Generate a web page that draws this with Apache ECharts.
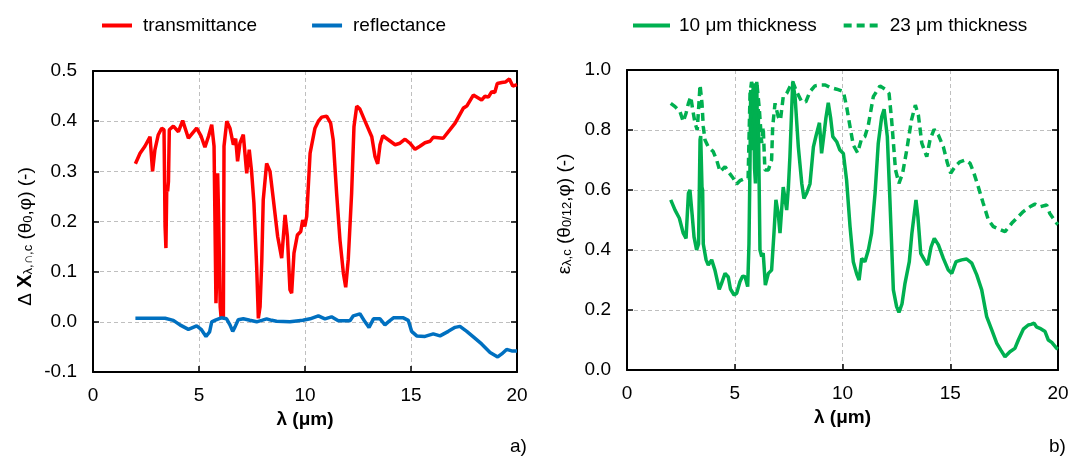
<!DOCTYPE html>
<html><head><meta charset="utf-8">
<script src="https://cdn.jsdelivr.net/npm/echarts@6/dist/echarts.min.js"></script>
<style>html,body{margin:0;padding:0;background:#fff}#c{width:1072px;height:456px}</style>
</head><body><div id="c"></div>
<script>
// ---- data ----
const xTicks = [0, 5, 10, 15, 20];
const transX = [2.0,2.22,2.45,2.69,2.81,2.92,3.08,3.24,3.35,3.40,3.44,3.48,3.52,3.56,3.60,3.79,4.03,4.23,4.50,4.89,5.10,5.28,5.45,5.60,5.71,5.80,5.84,5.88,5.93,6.0,6.04,6.15,6.18,6.31,6.46,6.62,6.73,6.82,6.93,7.09,7.25,7.37,7.48,7.59,7.72,7.80,7.88,7.96,8.03,8.19,8.35,8.51,8.71,8.90,9.06,9.17,9.29,9.37,9.48,9.64,9.80,9.89,9.99,10.08,10.24,10.47,10.63,10.79,11.02,11.21,11.33,11.49,11.65,11.81,11.92,12.04,12.20,12.31,12.44,12.59,12.83,13.15,13.30,13.43,13.54,13.67,13.93,14.25,14.48,14.72,14.95,15.19,15.42,15.66,15.90,16.05,16.52,16.84,17.08,17.47,17.63,17.94,18.33,18.49,18.65,18.81,18.95,19.07,19.28,19.45,19.64,19.80,20.0];
const transY = [0.315,0.336,0.35,0.369,0.30,0.343,0.373,0.386,0.383,0.19,0.147,0.27,0.26,0.28,0.383,0.39,0.379,0.401,0.366,0.386,0.37,0.348,0.37,0.393,0.35,0.037,0.10,0.296,0.2,0.03,0.01,0.01,0.35,0.40,0.386,0.353,0.365,0.32,0.356,0.373,0.296,0.343,0.30,0.237,0.11,0.007,0.03,0.12,0.243,0.316,0.30,0.243,0.17,0.127,0.213,0.17,0.064,0.057,0.137,0.173,0.18,0.203,0.19,0.21,0.336,0.386,0.40,0.408,0.41,0.396,0.363,0.257,0.163,0.097,0.069,0.124,0.257,0.389,0.43,0.424,0.40,0.369,0.33,0.315,0.353,0.371,0.363,0.353,0.356,0.364,0.356,0.344,0.35,0.357,0.36,0.368,0.366,0.383,0.396,0.426,0.43,0.452,0.442,0.45,0.448,0.459,0.457,0.475,0.477,0.478,0.484,0.47,0.473];

const reflX = [2.0,3.4,3.79,4.10,4.5,4.89,5.1,5.33,5.5,5.6,5.8,6.05,6.3,6.46,6.59,6.7,6.85,7.09,7.4,7.72,7.96,8.19,8.43,8.66,9.29,9.9,10.24,10.63,10.94,11.25,11.57,12.12,12.28,12.59,12.83,13.02,13.23,13.54,13.77,13.93,14.17,14.64,14.87,15.03,15.27,15.66,16.05,16.37,16.76,17.08,17.31,17.63,17.94,18.33,18.73,19.09,19.28,19.51,19.75,20.0];
const reflY = [0.007,0.007,0.003,-0.006,-0.015,-0.008,-0.015,-0.029,-0.02,0.0,0.004,0.008,0.006,-0.006,-0.019,-0.01,0.004,0.006,0.003,0.0,0.003,0.006,0.003,0.001,0.0,0.003,0.006,0.012,0.006,0.01,0.002,0.002,0.012,0.016,0.0,-0.011,0.006,0.006,-0.006,0.0,0.008,0.008,0.003,-0.019,-0.028,-0.029,-0.024,-0.028,-0.019,-0.011,-0.009,-0.019,-0.03,-0.044,-0.061,-0.07,-0.064,-0.055,-0.058,-0.058];

const thin10X = [2.03,2.23,2.43,2.61,2.74,2.85,2.92,3.02,3.11,3.23,3.32,3.39,3.42,3.48,3.51,3.54,3.67,3.77,3.93,4.08,4.28,4.38,4.55,4.7,4.8,4.97,5.09,5.24,5.37,5.48,5.60,5.66,5.71,5.74,5.81,5.86,5.92,5.96,6.02,6.06,6.09,6.17,6.25,6.32,6.42,6.56,6.71,6.82,6.91,7.02,7.1,7.17,7.25,7.33,7.41,7.49,7.56,7.69,7.8,7.95,8.11,8.21,8.34,8.49,8.65,8.77,8.93,9.03,9.13,9.23,9.34,9.45,9.55,9.73,9.88,10.04,10.19,10.35,10.50,10.66,10.77,10.89,11.04,11.2,11.35,11.51,11.66,11.82,11.93,12.08,12.20,12.36,12.51,12.62,12.76,12.90,13.10,13.22,13.41,13.5,13.63,13.8,13.95,14.11,14.26,14.45,14.68,14.91,15.07,15.27,15.53,15.76,16.0,16.23,16.46,16.69,16.93,17.16,17.34,17.54,17.77,18.0,18.16,18.39,18.62,18.75,18.89,19.0,19.16,19.40,19.55,19.71,19.94,20.0];
const thin10Y = [0.567,0.533,0.506,0.456,0.439,0.589,0.60,0.52,0.444,0.40,0.42,0.767,0.78,0.61,0.60,0.42,0.367,0.35,0.367,0.333,0.269,0.287,0.322,0.31,0.27,0.25,0.256,0.294,0.313,0.311,0.278,0.42,0.70,0.933,0.733,0.956,0.67,0.622,0.961,0.75,0.87,0.40,0.378,0.39,0.283,0.322,0.333,0.456,0.567,0.52,0.456,0.46,0.61,0.61,0.533,0.61,0.711,0.961,0.91,0.744,0.622,0.572,0.59,0.62,0.744,0.78,0.824,0.722,0.78,0.84,0.891,0.84,0.778,0.761,0.733,0.722,0.633,0.478,0.361,0.32,0.30,0.372,0.361,0.40,0.456,0.589,0.756,0.844,0.869,0.778,0.567,0.267,0.211,0.192,0.22,0.289,0.361,0.456,0.567,0.51,0.389,0.367,0.35,0.41,0.439,0.417,0.372,0.333,0.322,0.361,0.367,0.37,0.356,0.317,0.267,0.178,0.133,0.089,0.067,0.044,0.061,0.072,0.10,0.136,0.15,0.152,0.156,0.144,0.139,0.128,0.10,0.092,0.072,0.07];

const thick23X = [2.03,2.23,2.46,2.61,2.74,2.85,2.96,3.05,3.16,3.26,3.39,3.48,3.54,3.62,3.77,4.0,4.16,4.32,4.55,4.70,4.93,5.09,5.24,5.48,5.62,5.71,5.78,5.86,5.92,6.02,6.14,6.25,6.32,6.40,6.56,6.71,6.76,6.87,7.02,7.12,7.25,7.41,7.56,7.69,7.87,8.11,8.30,8.49,8.72,8.96,9.2,9.42,9.73,10.04,10.19,10.35,10.5,10.70,10.89,11.04,11.2,11.43,11.74,11.97,12.16,12.28,12.46,12.62,12.79,12.98,13.2,13.38,13.52,13.68,13.91,14.06,14.25,14.45,14.68,14.87,15.02,15.22,15.45,15.68,15.92,16.1,16.30,16.53,16.77,17.0,17.25,17.54,17.85,18.08,18.39,18.7,18.93,19.16,19.47,19.62,19.94,20.0];
const thick23Y = [0.889,0.878,0.861,0.828,0.856,0.889,0.911,0.867,0.822,0.80,0.95,0.889,0.811,0.767,0.744,0.728,0.70,0.661,0.678,0.661,0.639,0.62,0.631,0.639,0.639,0.922,0.96,0.94,0.76,0.961,0.87,0.756,0.81,0.667,0.667,0.70,0.811,0.889,0.844,0.833,0.911,0.922,0.944,0.961,0.928,0.894,0.894,0.928,0.947,0.95,0.95,0.942,0.936,0.928,0.878,0.811,0.75,0.724,0.772,0.778,0.817,0.911,0.947,0.936,0.922,0.833,0.667,0.622,0.656,0.733,0.833,0.883,0.85,0.756,0.711,0.767,0.802,0.783,0.744,0.689,0.656,0.678,0.694,0.70,0.689,0.656,0.611,0.556,0.50,0.478,0.47,0.461,0.489,0.506,0.528,0.544,0.553,0.544,0.55,0.522,0.489,0.485];

const zip = (xs, ys) => xs.map((x, i) => [x, ys[i]]);

// ---- styles ----
const FONT = '"Liberation Sans", Arial, sans-serif';
const BLACK = '#000';
const gridLine = {show: true, lineStyle: {color: '#bfbfbf', type: [4, 3], width: 1}};

function bottomX(gi) {
  return {
    type: 'value', gridIndex: gi, min: 0, max: 20, interval: 5, position: 'bottom',
    name: '{b|λ (μm)}', nameLocation: 'middle', nameGap: 28,
    nameTextStyle: {rich: {b: {fontFamily: FONT, fontSize: 19, fontWeight: 'bold', color: BLACK}}},
    axisLine: {show: true, onZero: false, lineStyle: {color: BLACK, width: 2}},
    axisTick: {show: true, inside: true, length: 6, lineStyle: {color: BLACK, width: 1.5}},
    axisLabel: {fontFamily: FONT, fontSize: 19, color: BLACK, margin: 14},
    splitLine: gridLine
  };
}
function topX(gi) {
  return {
    type: 'value', gridIndex: gi, min: 0, max: 20, interval: 5, position: 'top',
    axisLine: {show: true, onZero: false, lineStyle: {color: BLACK, width: 2}},
    axisTick: {show: false}, axisLabel: {show: false}, splitLine: {show: false}
  };
}
function leftY(gi, min, max, interval, name, rich, gap, pad) {
  return {
    type: 'value', gridIndex: gi, min: min, max: max, interval: interval, position: 'left',
    name: name, nameLocation: 'middle', nameGap: gap, nameRotate: 90,
    nameTextStyle: {rich: rich, padding: pad},
    axisLine: {show: true, onZero: false, lineStyle: {color: BLACK, width: 2}},
    axisTick: {show: true, inside: true, length: 6, lineStyle: {color: BLACK, width: 1.5}},
    axisLabel: {fontFamily: FONT, fontSize: 19, color: BLACK, margin: 16,
      formatter: v => v.toFixed(1)},
    splitLine: gridLine
  };
}
function rightY(gi, min, max, interval) {
  return {
    type: 'value', gridIndex: gi, min: min, max: max, interval: interval, position: 'right',
    axisLine: {show: true, onZero: false, lineStyle: {color: BLACK, width: 2}},
    axisTick: {show: true, inside: true, length: 6, lineStyle: {color: BLACK, width: 1.5}},
    axisLabel: {show: false}, splitLine: {show: false}
  };
}

const n = {fontFamily: FONT, fontSize: 19, color: BLACK, verticalAlign: 'bottom', lineHeight: 24};
const b = Object.assign({}, n, {fontWeight: 'bold', fontSize: 20});
const s = {fontFamily: FONT, fontSize: 13, color: BLACK, verticalAlign: 'bottom', lineHeight: 18};

const leftName = '{n|Δ }{b|X}{s|λ,∩,c}{n| (θ}{s|0}{n|,φ) (-)}';
const rightName = '{n|ε}{s|λ,c}{n| (θ}{s|0/12}{n|,φ) (-)}';

const legendText = {fontFamily: FONT, fontSize: 19, color: BLACK};
const LW = 3.5;

const option = {
  animation: false,
  backgroundColor: '#fff',
  grid: [
    {left: 93, top: 71, width: 424, height: 301},
    {left: 627, top: 70, width: 431, height: 300}
  ],
  legend: [
    {data: ['transmittance', 'reflectance'], left: 95, top: 11, itemWidth: 30, itemHeight: 14,
      itemGap: 53, itemStyle: {opacity: 0}, lineStyle: {width: 4},
      textStyle: Object.assign({padding: [0, 0, 0, 6]}, legendText)},
    {data: ['10 μm thickness', '23 μm thickness'], left: 626, top: 11, itemWidth: 37, itemHeight: 14,
      itemGap: 25, itemStyle: {opacity: 0}, lineStyle: {width: 4},
      textStyle: Object.assign({padding: [0, 0, 0, 4]}, legendText)}
  ],
  xAxis: [bottomX(0), bottomX(1), topX(0), topX(1)],
  yAxis: [
    leftY(0, -0.1, 0.5, 0.1, leftName, {n: n, b: b, s: s}, 58, [0, 30, 0, 0]),
    leftY(1, 0, 1.0, 0.2, rightName, {n: n, s: s}, 53, [0, 0, 0, 12]),
    rightY(0, -0.1, 0.5, 0.1),
    rightY(1, 0, 1.0, 0.2)
  ],
  series: [
    {name: 'transmittance', type: 'line', xAxisIndex: 0, yAxisIndex: 0, symbol: 'none',
      data: zip(transX, transY), lineStyle: {color: '#ff0000', width: LW}, itemStyle: {color: '#ff0000'}},
    {name: 'reflectance', type: 'line', xAxisIndex: 0, yAxisIndex: 0, symbol: 'none',
      data: zip(reflX, reflY), lineStyle: {color: '#0070c0', width: LW}, itemStyle: {color: '#0070c0'}},
    {name: '10 μm thickness', type: 'line', xAxisIndex: 1, yAxisIndex: 1, symbol: 'none',
      data: zip(thin10X, thin10Y), lineStyle: {color: '#00b050', width: LW}, itemStyle: {color: '#00b050'}},
    {name: '23 μm thickness', type: 'line', xAxisIndex: 1, yAxisIndex: 1, symbol: 'none',
      data: zip(thick23X, thick23Y), lineStyle: {color: '#00b050', width: LW, type: [8, 5]}, itemStyle: {color: '#00b050'}}
  ],
  graphic: [
    {type: 'text', left: 510, top: 437, style: {text: 'a)', font: '19px ' + FONT, fill: BLACK}},
    {type: 'text', left: 1049, top: 437, style: {text: 'b)', font: '19px ' + FONT, fill: BLACK}}
  ]
};

const chart = echarts.init(document.getElementById('c'), null, {renderer: 'canvas'});
chart.setOption(option);
</script>
</body></html>
